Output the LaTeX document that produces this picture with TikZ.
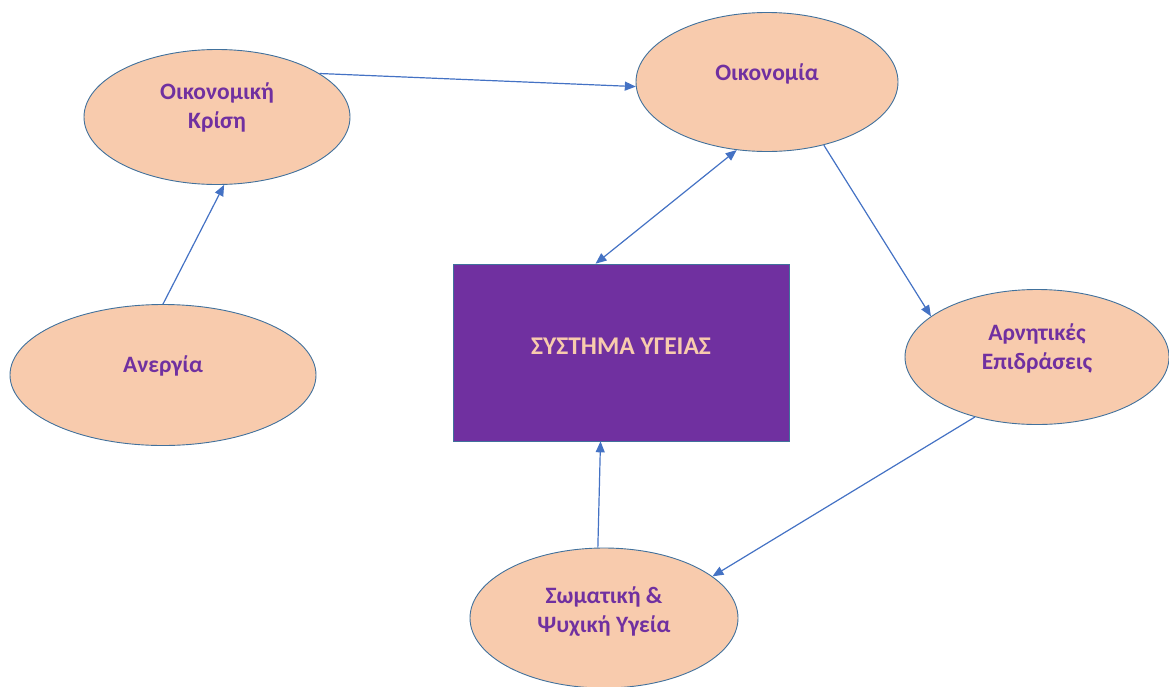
\documentclass[tikz,border=0pt]{standalone}
\usepackage{fontspec}
\setmainfont{Carlito}
\usetikzlibrary{shapes.geometric,arrows.meta}
\definecolor{peach}{HTML}{F8CBAD}
\definecolor{purp}{HTML}{7030A0}
\definecolor{edge}{HTML}{4472C4}
\definecolor{rim}{HTML}{41719C}
% lift the visible text by #1 inside a node, by deepening its box
\newcommand{\liftby}[2]{\raisebox{0pt}[\height][\dimexpr\depth+#1*2\relax]{#2}}
\newcommand{\twoline}[3]{\liftby{#1}{\begin{tabular}{@{}c@{}}#2\\#3\end{tabular}}}
\tikzset{
  bubble/.style={ellipse, draw=rim, line width=0.9pt, fill=peach, inner sep=0pt,
    text=purp, font=\bfseries\fontsize{23.5}{29}\selectfont},
  sysbox/.style={rectangle, draw=rim, line width=0.6pt, fill=purp, inner sep=0pt,
    minimum width=336pt, minimum height=177pt, text=peach,
    font=\bfseries\fontsize{25.5}{30}\selectfont},
  link/.style={draw=edge, line width=1.2pt, -{Triangle[length=11pt,width=9pt]}},
  link2/.style={draw=edge, line width=1.2pt, {Triangle[length=11pt,width=9pt]}-{Triangle[length=11pt,width=9pt]}}
}
\begin{document}
\begin{tikzpicture}[x=1pt,y=-1pt]
\useasboundingbox (0,0) rectangle (1169,686);
\clip (0,0) rectangle (1169,686);
\node[bubble, minimum width=266pt, minimum height=135pt] (ok) at (217,117) {\twoline{9pt}{Οικονομική}{Κρίση}};
\node[bubble, minimum width=262pt, minimum height=139pt] (oik) at (767,82) {\liftby{8pt}{Οικονομία}};
\node[bubble, minimum width=306pt, minimum height=141pt] (an) at (163,375) {\liftby{9pt}{Ανεργία}};
\node[bubble, minimum width=264pt, minimum height=135pt] (arn) at (1037,357) {\twoline{7.5pt}{Αρνητικές}{Επιδράσεις}};
\node[bubble, minimum width=268pt, minimum height=140pt] (sw) at (604,618) {\twoline{6pt}{Σωματική \&}{Ψυχική Υγεία}};
\node[sysbox] (sys) at (621,352.5) {\liftby{6.5pt}{ΣΥΣΤΗΜΑ ΥΓΕΙΑΣ}};
\draw[link] (ok.23.7) -- (oik.182.2);
\draw[link] (an.north) -- (ok.276.7);
\draw[link2] (oik.246.3) -- (sys.106.4);
\draw[link] (oik.312.7) -- (arn.159.4);
\draw[link] (arn.224.1) -- (sw.21.6);
\draw[link] (sw.95.7) -- (sys.257.3);
\end{tikzpicture}
\end{document}
